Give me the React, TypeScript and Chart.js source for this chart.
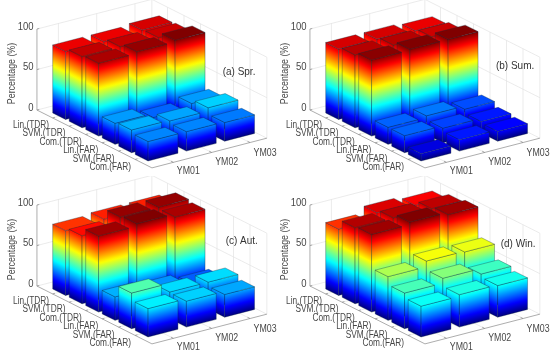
import React, { useEffect, useRef } from "react";
import { Chart, registerables } from "chart.js";

Chart.register(...registerables);

const categories = ["Lin.(TDR)", "SVM.(TDR)", "Com.(TDR)", "Lin.(FAR)", "SVM.(FAR)", "Com.(FAR)"];
const models = ["YM01", "YM02", "YM03"];
const zTicks = [0, 50, 100];

const springValues = [
  [84, 84, 86],
  [88, 88, 87],
  [90, 92, 94],
  [26, 21, 26],
  [28, 27, 31],
  [24, 24, 23],
];
const summerValues = [
  [87, 87, 85],
  [90, 90, 88],
  [94, 95, 95],
  [21, 23, 19],
  [21, 18, 14],
  [9, 14, 12],
];
const autumnValues = [
  [80, 82, 82],
  [84, 95, 95],
  [94, 97, 93],
  [29, 26, 21],
  [44, 33, 33],
  [35, 32, 28],
];
const winterValues = [
  [82, 90, 87],
  [94, 94, 93],
  [96, 99, 96],
  [54, 61, 60],
  [44, 50, 43],
  [38, 40, 39],
];

const panelNames = ["(a) Spr.", "(b) Sum.", "(c) Aut.", "(d) Win."];
const panelData = [springValues, summerValues, autumnValues, winterValues];

const FONT = '"Liberation Sans", Arial, sans-serif';
const W = 277;
const H = 183;
const BW = 0.78;
const A_MIN = -0.56, A_MAX = 6.41, B_MIN = -0.17, B_MAX = 2.83;

function proj(a: number, b: number, z: number) {
  return { x: 52.7 + a * 16.5 + b * 38.3, y: 113 + a * 8.3 - b * 9.9 - z * 0.81 };
}
const clamp = (v: number) => Math.max(0, Math.min(1, v));
function jet(t: number) {
  const r = clamp(1.5 - Math.abs(4 * t - 3));
  const g = clamp(1.5 - Math.abs(4 * t - 2));
  const b = clamp(1.5 - Math.abs(4 * t - 1));
  return `rgb(${Math.round(r * 255)},${Math.round(g * 255)},${Math.round(b * 255)})`;
}

const bars3d = {
  id: "bars3d",
  afterDatasetsDraw(chart: any) {
    const { ctx, scales } = chart;
    const X = (p: { x: number }) => scales.x.getPixelForValue(p.x);
    const Y = (p: { y: number }) => scales.y.getPixelForValue(p.y);
    const line = (a: any, b: any, col: string, w = 0.7) => {
      ctx.strokeStyle = col;
      ctx.lineWidth = w;
      ctx.beginPath();
      ctx.moveTo(X(a), Y(a));
      ctx.lineTo(X(b), Y(b));
      ctx.stroke();
    };
    const poly = (pts: any[], fill: string | null, stroke: string | null) => {
      ctx.beginPath();
      pts.forEach((p, i) => (i ? ctx.lineTo(X(p), Y(p)) : ctx.moveTo(X(p), Y(p))));
      ctx.closePath();
      if (fill) {
        ctx.fillStyle = fill;
        ctx.fill();
      }
      if (stroke) {
        ctx.strokeStyle = stroke;
        ctx.lineWidth = 0.6;
        ctx.stroke();
      }
    };
    const label = (s: string, x: number, y: number, sx: number) => {
      ctx.save();
      ctx.translate(X({ x }), Y({ y }));
      ctx.scale(sx, 1);
      ctx.fillText(s, 0, 0);
      ctx.restore();
    };
    ctx.save();
    const grid = "#e2e2e2";
    zTicks.forEach((z) => {
      line(proj(A_MIN, B_MIN, z), proj(A_MIN, B_MAX, z), grid);
      line(proj(A_MIN, B_MAX, z), proj(A_MAX, B_MAX, z), grid);
    });
    models.forEach((_, j) => {
      const b = j + BW / 2;
      line(proj(A_MIN, b, 0), proj(A_MIN, b, 100), grid);
      line(proj(A_MIN, b, 0), proj(A_MAX, b, 0), grid);
    });
    categories.forEach((_, i) => {
      const a = i + BW / 2;
      line(proj(a, B_MAX, 0), proj(a, B_MAX, 100), grid);
      line(proj(a, B_MIN, 0), proj(a, B_MAX, 0), grid);
    });
    line(proj(A_MIN, B_MAX, 0), proj(A_MIN, B_MAX, 100), grid);
    line(proj(A_MAX, B_MAX, 0), proj(A_MAX, B_MAX, 100), grid);
    const ax = "#8a8a8a";
    line(proj(A_MIN, B_MIN, 0), proj(A_MAX, B_MIN, 0), ax);
    line(proj(A_MAX, B_MIN, 0), proj(A_MAX, B_MAX, 0), ax);
    line(proj(A_MIN, B_MIN, 0), proj(A_MIN, B_MIN, 100), ax);
    zTicks.forEach((z) => {
      line(proj(A_MIN, B_MIN, z), proj(A_MIN, B_MIN + 0.06, z), ax);
    });
    categories.forEach((_, i) => {
      const a = i + BW / 2;
      line(proj(a, B_MIN, 0), proj(a, B_MIN + 0.06, 0), ax);
    });
    models.forEach((_, j) => {
      const b = j + BW / 2;
      line(proj(A_MAX, b, 0), proj(A_MAX - 0.15, b, 0), ax);
    });
    const ds = chart.data.datasets;
    const zmax = Math.max(...ds.flatMap((d: any) => d.data.map((p: any) => p.z)));
    const edge = "rgba(15,40,55,0.55)";
    const face = (a0: number, b0: number, a1: number, b1: number, v: number) => {
      const p0 = proj(a0, b0, 0);
      const p1 = proj(a1, b1, 0);
      const h = Y(p0) - Y(proj(a0, b0, v));
      ctx.save();
      ctx.transform(X(p1) - X(p0), Y(p1) - Y(p0), 0, 1, X(p0), Y(p0));
      const g = ctx.createLinearGradient(0, 0, 0, -h);
      for (let z = 0; z <= v; z += 2) g.addColorStop(z / v, jet(z / zmax));
      g.addColorStop(1, jet(v / zmax));
      ctx.fillStyle = g;
      ctx.fillRect(0, -h, 1, h);
      ctx.restore();
      poly([p0, p1, proj(a1, b1, v), proj(a0, b0, v)], null, edge);
    };
    ds.forEach((d: any, i: number) => {
      for (let j = models.length - 1; j >= 0; j--) {
        const v = d.data[j].z;
        face(i, j, i + BW, j, v);
        face(i + BW, j, i + BW, j + BW, v);
        poly(
          [proj(i, j, v), proj(i + BW, j, v), proj(i + BW, j + BW, v), proj(i, j + BW, v)],
          jet(v / zmax),
          edge
        );
      }
    });
    ctx.fillStyle = "#474747";
    ctx.font = `10px ${FONT}`;
    ctx.textBaseline = "middle";
    ctx.textAlign = "right";
    zTicks.forEach((z) => {
      const p = proj(A_MIN, B_MIN, z);
      label(String(z), 33.5, p.y - 2, 0.95);
    });
    categories.forEach((c, i) => {
      label(c, 49 + i * 16.4, 125 + i * 8.46, 0.83);
    });
    ctx.textAlign = "center";
    models.forEach((m, j) => {
      label(m, 188.3 + j * 38.4, 171.7 - j * 9, 0.88);
    });
    const opts = chart.options.plugins.bars3d;
    ctx.font = `10.5px ${FONT}`;
    ctx.textAlign = "left";
    ctx.fillStyle = "#333";
    label(opts.name, opts.nameX, opts.nameY, 0.95);
    ctx.font = `10.5px ${FONT}`;
    ctx.fillStyle = "#474747";
    ctx.translate(X({ x: 11.7 }), Y({ y: 73.5 }));
    ctx.rotate(-Math.PI / 2);
    ctx.scale(0.84, 1);
    ctx.textAlign = "center";
    ctx.fillText("Percentage (%)", 0, 0);
    ctx.restore();
  },
};

const offsets = [
  { x: 0, y: 0, nameX: 222.7, nameY: 71.7 },
  { x: 273.3, y: 0, nameX: 223, nameY: 65.7 },
  { x: 0, y: 176.3, nameX: 225.7, nameY: 65 },
  { x: 273.3, y: 176.3, nameX: 227.7, nameY: 67.7 },
];

function Panel({ index }: { index: number }) {
  const ref = useRef<HTMLCanvasElement>(null);
  useEffect(() => {
    document.body.style.margin = "0";
    const values = panelData[index];
    const chart = new Chart(ref.current as HTMLCanvasElement, {
      type: "scatter",
      data: {
        datasets: categories.map((c, i) => ({
          label: c,
          data: models.map((_, j) => {
            const p = proj(i, j, values[i][j]);
            return { x: p.x, y: p.y, z: values[i][j] };
          }),
          pointRadius: 0,
          showLine: false,
        })),
      },
      options: {
        animation: false,
        responsive: false,
        layout: { padding: 0 },
        scales: {
          x: { type: "linear", display: false, min: 0, max: W },
          y: { type: "linear", display: false, min: 0, max: H, reverse: true },
        },
        plugins: {
          legend: { display: false },
          tooltip: { enabled: false },
          bars3d: { name: panelNames[index], nameX: offsets[index].nameX, nameY: offsets[index].nameY },
        } as any,
      },
      plugins: [bars3d],
    });
    return () => chart.destroy();
  }, [index]);
  const o = offsets[index];
  return (
    <canvas
      ref={ref}
      width={W}
      height={H}
      style={{ position: "absolute", left: o.x, top: o.y, width: W, height: H, filter: "blur(0.45px)" }}
    />
  );
}

export default function App() {
  return (
    <div style={{ position: "relative", width: 550, height: 357, overflow: "hidden", background: "#fff" }}>
      {panelData.map((_, i) => (
        <Panel key={i} index={i} />
      ))}
    </div>
  );
}
